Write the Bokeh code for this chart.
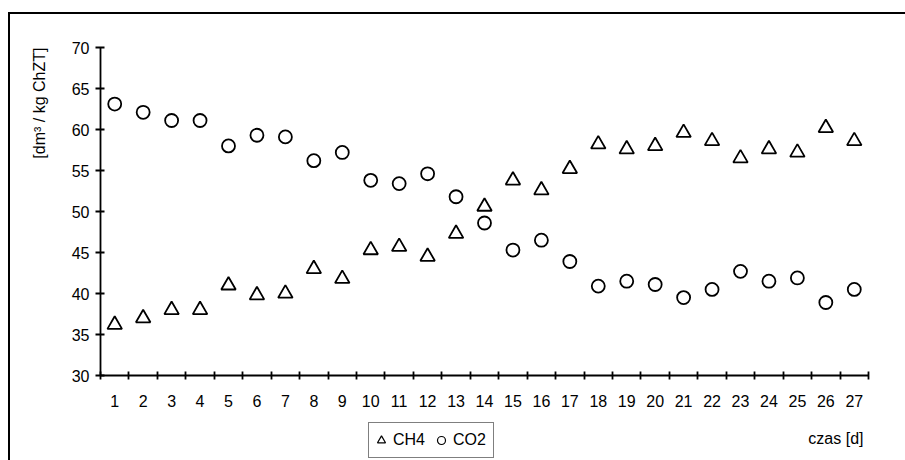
from bokeh.plotting import figure
from bokeh.layouts import column
from bokeh.models import (ColumnDataSource, FixedTicker, Range1d, Label, Legend, LegendItem, Title)
from bokeh.embed import file_html
from bokeh.resources import INLINE

# ---- data ----
days = list(range(1, 28))
ch4 = [36.2, 37.0, 38.0, 38.0, 41.0, 39.8, 40.0, 43.0, 41.8, 45.3, 45.7, 44.5, 47.3, 50.6,
       53.8, 52.6, 55.2, 58.2, 57.6, 58.0, 59.6, 58.6, 56.5, 57.6, 57.2, 60.2, 58.6]
co2 = [63.1, 62.1, 61.1, 61.1, 58.0, 59.3, 59.1, 56.2, 57.2, 53.8, 53.4, 54.6, 51.8, 48.6,
       45.3, 46.5, 43.9, 40.9, 41.5, 41.1, 39.5, 40.5, 42.7, 41.5, 41.9, 38.9, 40.5]
y_ticks = [30, 35, 40, 45, 50, 55, 60, 65, 70]
y_title = "[dm³ / kg ChZT]"
x_title = "czas [d]"
series_names = ["CH4", "CO2"]

FONT = "Liberation Sans"
FS = "16px"

src = ColumnDataSource(dict(day=days, ch4=ch4, co2=co2))

# ---- main chart ----
p = figure(width=895, height=401, output_backend="svg", toolbar_location=None,
           x_range=Range1d(0.5, 27.5), y_range=Range1d(30, 70),
           min_border_left=90, min_border_right=37, min_border_top=33, min_border_bottom=40)
p.outline_line_color = None
p.xgrid.grid_line_color = None
p.ygrid.grid_line_color = None
p.background_fill_color = "white"
p.border_fill_color = "white"

r1 = p.scatter("day", "ch4", source=src, marker="triangle", size=14.5,
               fill_color="white", line_color="black", line_width=1.8)
r2 = p.scatter("day", "co2", source=src, marker="circle", size=13,
               fill_color="white", line_color="black", line_width=1.8)

xa = p.xaxis[0]
xa.ticker = FixedTicker(ticks=days, minor_ticks=[d - 0.5 for d in days] + [days[-1] + 0.5])
xa.major_tick_line_color = None
xa.major_tick_in = 0
xa.major_tick_out = 0
xa.minor_tick_line_color = "black"
xa.minor_tick_line_width = 1.8
xa.minor_tick_in = 4
xa.minor_tick_out = 4
xa.axis_line_color = "black"
xa.axis_line_width = 1.8
xa.major_label_standoff = 15
xa.major_label_text_font = FONT
xa.major_label_text_font_size = FS
xa.major_label_text_color = "black"

ya = p.yaxis[0]
ya.ticker = FixedTicker(ticks=y_ticks, minor_ticks=[])
ya.major_tick_line_color = "black"
ya.major_tick_line_width = 1.8
ya.major_tick_in = 4
ya.major_tick_out = 5
ya.axis_line_color = "black"
ya.axis_line_width = 1.8
ya.major_label_standoff = 6
ya.major_label_text_font = FONT
ya.major_label_text_font_size = FS
ya.major_label_text_color = "black"

p.add_layout(Title(text=y_title, align="right", vertical_align="middle", standoff=39,
                   offset=0, text_font=FONT, text_font_size=FS, text_font_style="normal",
                   text_color="black"), "left")

# ---- bottom strip: legend + x title ----
q = figure(width=895, height=45, output_backend="svg", toolbar_location=None,
           x_range=Range1d(0.5, 27.5), y_range=Range1d(30, 70), x_axis_type=None, y_axis_type=None,
           min_border_left=0, min_border_right=0, min_border_top=0, min_border_bottom=0)
q.outline_line_color = None
q.xgrid.grid_line_color = None
q.ygrid.grid_line_color = None
q.background_fill_color = "white"
q.border_fill_color = "white"

# legend proxies (hidden; only their legend glyphs are drawn)
l1 = q.scatter("day", "ch4", source=src, marker="triangle", size=14, visible=False,
               fill_color="white", line_color="black", line_width=1.2)
l2 = q.scatter("day", "co2", source=src, marker="circle", size=13, visible=False,
               fill_color="white", line_color="black", line_width=1.2)

legend = Legend(items=[LegendItem(label=series_names[0], renderers=[l1]),
                       LegendItem(label=series_names[1], renderers=[l2])],
                orientation="horizontal", location=(268, 2),
                border_line_color="black", border_line_width=1.2,
                background_fill_color="white", background_fill_alpha=1,
                inactive_fill_alpha=0,
                label_text_font=FONT, label_text_font_size=FS, label_text_color="black",
                label_standoff=2, label_width=38, glyph_width=20, glyph_height=30,
                spacing=0, padding=2, margin=0)
q.add_layout(legend, "center")
q.add_layout(Label(x=763, y=22, x_units="screen", y_units="screen", text=x_title,
                   text_align="right", text_baseline="middle",
                   text_font=FONT, text_font_size=FS, text_color="black"))

layout = column(p, q, spacing=0,
                styles={"margin-left": "8px", "margin-top": "12px",
                        "border-top": "2px solid black", "border-left": "2px solid black"})

open("out.html", "w").write(file_html(layout, INLINE))
